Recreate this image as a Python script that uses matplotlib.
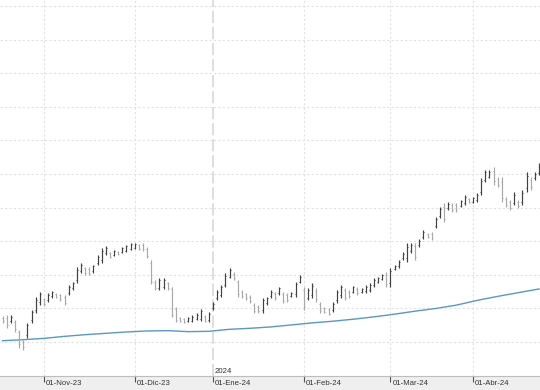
import numpy as np
import pandas as pd
import matplotlib
matplotlib.use('Agg')
import matplotlib.pyplot as plt
from matplotlib.transforms import blended_transform_factory

# trading days (Spanish market holidays removed)
holidays = ['2023-12-25', '2023-12-26', '2024-01-01', '2024-03-29', '2024-04-01']
dates = pd.bdate_range('2023-10-18', '2024-04-24')
dates = dates[~dates.isin(pd.to_datetime(holidays))]

month_labels = ['01-Nov-23', '01-Dic-23', '01-Ene-24', '01-Feb-24', '01-Mar-24', '01-Abr-24']
year_label = '2024'

high = [4.077, 4.080, 4.080, 4.065, 4.036, 4.006, 4.057, 4.095, 4.134, 4.149,
        4.131, 4.146, 4.152, 4.146, 4.143, 4.140, 4.170, 4.179, 4.223, 4.235,
        4.223, 4.223, 4.229, 4.259, 4.280, 4.286, 4.268, 4.274, 4.271, 4.283,
        4.289, 4.295, 4.295, 4.292, 4.295, 4.283, 4.244, 4.185, 4.190, 4.190,
        4.179, 4.164, 4.104, 4.074, 4.071, 4.074, 4.080, 4.086, 4.098, 4.080,
        4.089, 4.119, 4.155, 4.170, 4.205, 4.220, 4.208, 4.185, 4.155, 4.146,
        4.140, 4.116, 4.110, 4.131, 4.134, 4.155, 4.149, 4.164, 4.149, 4.146,
        4.149, 4.179, 4.199, 4.164, 4.161, 4.176, 4.161, 4.119, 4.104, 4.101,
        4.119, 4.155, 4.170, 4.161, 4.155, 4.167, 4.164, 4.161, 4.170, 4.176,
        4.190, 4.193, 4.202, 4.208, 4.220, 4.229, 4.244, 4.268, 4.295, 4.295,
        4.295, 4.307, 4.333, 4.324, 4.327, 4.372, 4.402, 4.414, 4.417, 4.414,
        4.414, 4.423, 4.438, 4.429, 4.432, 4.443, 4.488, 4.512, 4.512, 4.521,
        4.491, 4.491, 4.432, 4.423, 4.446, 4.423, 4.452, 4.506, 4.491, 4.506,
        4.533]
low = [4.057, 4.042, 4.057, 4.030, 3.982, 3.976, 4.012, 4.057, 4.086, 4.110,
       4.107, 4.119, 4.131, 4.131, 4.122, 4.110, 4.140, 4.155, 4.176, 4.205,
       4.199, 4.199, 4.205, 4.229, 4.235, 4.259, 4.250, 4.256, 4.259, 4.265,
       4.268, 4.274, 4.277, 4.274, 4.271, 4.250, 4.173, 4.155, 4.155, 4.158,
       4.155, 4.074, 4.060, 4.060, 4.057, 4.060, 4.060, 4.065, 4.063, 4.060,
       4.060, 4.095, 4.125, 4.134, 4.164, 4.190, 4.185, 4.134, 4.131, 4.125,
       4.116, 4.086, 4.086, 4.086, 4.110, 4.131, 4.125, 4.140, 4.116, 4.119,
       4.134, 4.134, 4.176, 4.095, 4.125, 4.131, 4.119, 4.086, 4.086, 4.080,
       4.089, 4.116, 4.131, 4.125, 4.131, 4.146, 4.140, 4.146, 4.146, 4.149,
       4.164, 4.176, 4.185, 4.164, 4.164, 4.214, 4.220, 4.244, 4.238, 4.265,
       4.244, 4.283, 4.307, 4.310, 4.304, 4.339, 4.369, 4.357, 4.393, 4.387,
       4.387, 4.402, 4.408, 4.414, 4.414, 4.417, 4.438, 4.476, 4.488, 4.467,
       4.461, 4.417, 4.402, 4.393, 4.408, 4.399, 4.408, 4.446, 4.452, 4.482,
       4.497]
open_ = [4.073, 4.072, 4.062, 4.060, 4.030, 4.000, 4.020, 4.065, 4.095, 4.120,
         4.128, 4.124, 4.136, 4.143, 4.139, 4.134, 4.145, 4.160, 4.185, 4.212,
         4.219, 4.218, 4.210, 4.235, 4.245, 4.265, 4.265, 4.260, 4.268, 4.268,
         4.272, 4.278, 4.281, 4.288, 4.290, 4.278, 4.236, 4.180, 4.162, 4.165,
         4.175, 4.158, 4.098, 4.071, 4.068, 4.063, 4.064, 4.069, 4.070, 4.076,
         4.065, 4.100, 4.130, 4.140, 4.170, 4.195, 4.204, 4.178, 4.150, 4.142,
         4.135, 4.110, 4.105, 4.095, 4.115, 4.136, 4.145, 4.145, 4.143, 4.141,
         4.137, 4.143, 4.180, 4.155, 4.132, 4.140, 4.153, 4.113, 4.100, 4.097,
         4.095, 4.124, 4.139, 4.154, 4.150, 4.150, 4.159, 4.149, 4.151, 4.155,
         4.169, 4.179, 4.188, 4.200, 4.175, 4.217, 4.225, 4.249, 4.250, 4.271,
         4.285, 4.288, 4.312, 4.321, 4.322, 4.345, 4.375, 4.403, 4.398, 4.409,
         4.408, 4.406, 4.414, 4.426, 4.417, 4.422, 4.448, 4.483, 4.492, 4.510,
         4.485, 4.476, 4.426, 4.417, 4.415, 4.418, 4.417, 4.458, 4.483, 4.487,
         4.504]
close = [4.062, 4.050, 4.076, 4.038, 3.995, 3.985, 4.050, 4.088, 4.125, 4.142,
         4.112, 4.140, 4.148, 4.135, 4.127, 4.117, 4.165, 4.175, 4.215, 4.228,
         4.205, 4.204, 4.225, 4.253, 4.272, 4.280, 4.254, 4.270, 4.262, 4.279,
         4.285, 4.291, 4.291, 4.278, 4.276, 4.256, 4.180, 4.160, 4.184, 4.185,
         4.160, 4.080, 4.066, 4.063, 4.061, 4.071, 4.076, 4.082, 4.092, 4.064,
         4.084, 4.114, 4.150, 4.163, 4.198, 4.214, 4.190, 4.142, 4.136, 4.130,
         4.121, 4.092, 4.091, 4.124, 4.130, 4.150, 4.130, 4.160, 4.122, 4.125,
         4.146, 4.172, 4.195, 4.105, 4.155, 4.168, 4.127, 4.092, 4.090, 4.085,
         4.113, 4.148, 4.163, 4.132, 4.136, 4.163, 4.145, 4.158, 4.165, 4.171,
         4.185, 4.190, 4.199, 4.172, 4.210, 4.226, 4.239, 4.263, 4.284, 4.289,
         4.254, 4.302, 4.328, 4.313, 4.309, 4.365, 4.395, 4.366, 4.412, 4.393,
         4.392, 4.419, 4.432, 4.417, 4.428, 4.438, 4.478, 4.505, 4.507, 4.478,
         4.467, 4.430, 4.408, 4.399, 4.438, 4.404, 4.443, 4.494, 4.460, 4.501,
         4.526]

# moving average, read every 5 sessions
ma_idx = list(range(0, 131, 5))
ma_val = [4.004, 4.007, 4.011, 4.017, 4.022, 4.026, 4.030, 4.033, 4.034, 4.031,
          4.032, 4.038, 4.041, 4.045, 4.051, 4.057, 4.062, 4.068, 4.075, 4.083,
          4.092, 4.100, 4.110, 4.124, 4.136, 4.147, 4.158]

x = np.arange(len(dates))
o, h, l, c = map(np.array, (open_, high, low, close))
up = c >= o

fig = plt.figure(figsize=(5.4, 3.9), dpi=100, facecolor='#efefef')
ax = fig.add_axes([0, 14 / 390, 1, 376 / 390])
ax.set_facecolor('white')

ax.set_xlim(-0.655, 130.26)
ax.set_ylim(3.899, 5.018)

# grid
for yv in np.arange(4.0, 5.01, 0.1):
    ax.axhline(yv, color='#e2e2e2', lw=0.8, ls=(0, (2, 2)), zorder=0)

month_first = [i for i in range(1, len(dates)) if dates[i].month != dates[i - 1].month]
year_first = [i for i in month_first if dates[i].year != dates[i - 1].year]
for i in month_first:
    if i in year_first:
        ax.axvline(i, color='#d4d4d4', lw=1.1, ls=(0, (8, 2.5)), zorder=0)
    else:
        ax.axvline(i, color='#e2e2e2', lw=0.8, ls=(0, (2, 2)), zorder=0)

# OHLC bars
cols = np.where(up, '#404040', '#a8a8a8')
ax.vlines(x, l, h, colors=cols, lw=0.85, zorder=3)
ax.hlines(o, x - 0.25, x, colors=cols, lw=0.7, zorder=3)
ax.hlines(c, x, x + 0.25, colors=cols, lw=0.7, zorder=3)

# moving average
ax.plot(ma_idx, ma_val, color='#5a98bd', lw=1.0, zorder=2)

# axes frame
for s in ['top', 'left', 'right']:
    ax.spines[s].set_visible(False)
ax.spines['bottom'].set_color('#bdbdbd')
ax.spines['bottom'].set_linewidth(0.8)
ax.set_yticks([])
ax.set_xticks(month_first)
ax.set_xticklabels([])
ax.tick_params(axis='x', direction='out', length=4.5, width=0.8, color='#555555')

trans = blended_transform_factory(ax.transData, ax.transAxes)
for i, lab in zip(month_first, month_labels):
    ax.annotate(lab, xy=(i, 0), xycoords=trans, xytext=(1.5, -5.5),
                textcoords='offset points', ha='left', va='center',
                fontsize=5.6, family='Liberation Sans', color='#333333',
                annotation_clip=False)
for i in year_first:
    ax.annotate(year_label, xy=(i, 0), xycoords=trans, xytext=(1.2, 3.5),
                textcoords='offset points', ha='left', va='center',
                fontsize=5.6, family='Liberation Sans', color='#333333')

fig.savefig('out.png', dpi=100, facecolor=fig.get_facecolor())
